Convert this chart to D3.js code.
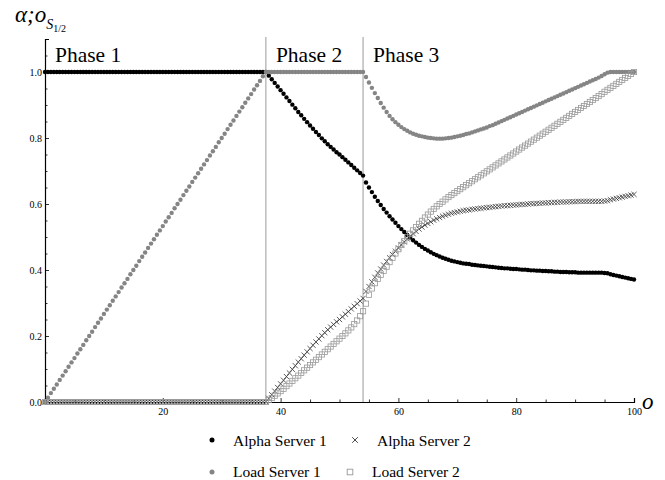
<!DOCTYPE html>
<html>
<head>
<meta charset="utf-8">
<script src="https://cdn.jsdelivr.net/npm/d3@7"></script>
<style>
  html, body { margin: 0; padding: 0; background: #fff; }
  svg { display: block; font-family: "Liberation Serif", "Times New Roman", serif; }
</style>
</head>
<body>
<svg id="chart" width="665" height="480"></svg>
<script>
// ---------- data (o sampled every 0.5 from 0 to 100) ----------
const oValues = d3.range(0, 100.5, 0.5);
const phaseBounds = [37.5, 54];
const phaseLabels = ["Phase 1", "Phase 2", "Phase 3"];
const xTickLabels = [20, 40, 60, 80, 100];
const yTickLabels = [0, 0.2, 0.4, 0.6, 0.8, 1.0];

const alphaServer1 = [
  1,1,1,1,1,1,1,1,1,1, 1,1,1,1,1,1,1,1,1,1, 1,1,1,1,1,1,1,1,1,1,
  1,1,1,1,1,1,1,1,1,1, 1,1,1,1,1,1,1,1,1,1, 1,1,1,1,1,1,1,1,1,1,
  1,1,1,1,1,1,1,1,1,1, 1,1,1,1,1,1,
  0.989,0.978,0.967,0.956,0.945,0.934,0.923,0.912,0.901,0.890,0.879,0.869,0.858,0.848,0.838,0.828,
  0.818,0.809,0.799,0.790,0.781,0.773,0.765,0.757,0.750,0.742,0.734,0.726,0.718,0.710,0.702,0.694,0.686,
  0.665,0.650,0.636,0.622,0.609,0.597,0.585,0.574,0.563,0.553,0.543,0.533,0.524,0.515,0.506,0.498,0.490,0.483,
  0.476,0.470,0.464,0.459,0.454,0.449,0.445,0.441,0.437,0.434,0.431,0.428,0.426,0.424,0.422,0.420,0.419,0.418,
  0.416,0.415,0.414,0.413,0.412,0.411,0.410,0.409,0.408,0.407,0.406,0.405,0.405,0.404,0.403,0.403,0.402,0.401,
  0.401,0.400,0.399,0.399,0.398,0.398,0.397,0.397,0.396,0.396,0.395,0.395,0.394,0.394,0.394,0.393,0.393,0.393,
  0.392,0.392,0.392,0.392,0.392,0.392,0.392,0.392,0.392,0.391,0.390,0.387,0.385,0.383,0.381,0.379,0.377,0.375,
  0.373,0.371
];

const alphaServer2 = [
  0,0,0,0,0,0,0,0,0,0, 0,0,0,0,0,0,0,0,0,0, 0,0,0,0,0,0,0,0,0,0,
  0,0,0,0,0,0,0,0,0,0, 0,0,0,0,0,0,0,0,0,0, 0,0,0,0,0,0,0,0,0,0,
  0,0,0,0,0,0,0,0,0,0, 0,0,0,0,0,0,
  0.011,0.022,0.033,0.044,0.055,0.066,0.077,0.088,0.099,0.110,0.121,0.131,0.142,0.152,0.162,0.172,
  0.182,0.191,0.201,0.210,0.219,0.227,0.235,0.243,0.250,0.258,0.266,0.274,0.282,0.290,0.298,0.306,0.314,
  0.335,0.350,0.364,0.378,0.391,0.403,0.415,0.426,0.437,0.447,0.457,0.467,0.476,0.485,0.494,0.502,0.510,0.517,
  0.524,0.530,0.536,0.541,0.546,0.551,0.555,0.559,0.563,0.566,0.569,0.572,0.574,0.576,0.578,0.580,0.581,0.582,
  0.584,0.585,0.586,0.587,0.588,0.589,0.590,0.591,0.592,0.593,0.594,0.595,0.595,0.596,0.597,0.597,0.598,0.599,
  0.599,0.600,0.601,0.601,0.602,0.602,0.603,0.603,0.604,0.604,0.605,0.605,0.606,0.606,0.606,0.607,0.607,0.607,
  0.608,0.608,0.608,0.608,0.608,0.608,0.608,0.608,0.608,0.609,0.610,0.613,0.615,0.617,0.619,0.621,0.623,0.625,
  0.627,0.629
];

const loadServer1 = [
  0.000,0.013,0.027,0.040,0.053,0.067,0.080,0.093,0.107,0.120,0.133,0.147,0.160,0.173,0.187,0.200,
  0.213,0.227,0.240,0.253,0.267,0.280,0.293,0.307,0.320,0.333,0.347,0.360,0.373,0.387,0.400,0.413,
  0.427,0.440,0.453,0.467,0.480,0.493,0.507,0.520,0.533,0.547,0.560,0.573,0.587,0.600,0.613,0.627,
  0.640,0.653,0.667,0.680,0.693,0.707,0.720,0.733,0.747,0.760,0.773,0.787,0.800,0.813,0.827,0.840,
  0.853,0.867,0.880,0.893,0.907,0.920,0.933,0.947,0.960,0.973,0.987,1.000,
  1,1,1,1,1,1,1,1,1,1, 1,1,1,1,1,1,1,1,1,1, 1,1,1,1,1,1,1,1,1,1, 1,1,1,
  0.985,0.968,0.952,0.936,0.921,0.906,0.892,0.879,0.867,0.857,0.848,0.840,0.833,0.827,0.822,0.817,0.813,0.810,
  0.807,0.805,0.803,0.801,0.800,0.799,0.798,0.798,0.798,0.799,0.800,0.801,0.803,0.805,0.807,0.809,0.812,0.814,
  0.817,0.820,0.823,0.826,0.829,0.832,0.836,0.839,0.843,0.847,0.851,0.855,0.859,0.863,0.867,0.871,0.875,0.879,
  0.883,0.887,0.891,0.895,0.899,0.903,0.907,0.911,0.915,0.919,0.923,0.927,0.931,0.935,0.939,0.943,0.947,0.951,
  0.955,0.959,0.963,0.967,0.971,0.975,0.979,0.983,0.988,0.993,0.998,
  1,1,1,1,1,1,1,1,1
];

const loadServer2 = [
  0,0,0,0,0,0,0,0,0,0, 0,0,0,0,0,0,0,0,0,0, 0,0,0,0,0,0,0,0,0,0,
  0,0,0,0,0,0,0,0,0,0, 0,0,0,0,0,0,0,0,0,0, 0,0,0,0,0,0,0,0,0,0,
  0,0,0,0,0,0,0,0,0,0, 0,0,0,0,0,0,
  0.006,0.012,0.019,0.026,0.033,0.040,0.048,0.056,0.064,0.072,0.080,0.088,0.096,0.104,0.112,0.120,
  0.128,0.136,0.144,0.152,0.160,0.168,0.176,0.184,0.192,0.200,0.208,0.217,0.226,0.236,0.247,0.260,0.275,
  0.298,0.325,0.344,0.360,0.373,0.385,0.397,0.410,0.424,0.437,0.450,0.463,0.476,0.488,0.499,0.510,0.520,0.530,
  0.540,0.549,0.559,0.568,0.577,0.585,0.593,0.600,0.607,0.614,0.621,0.627,0.633,0.639,0.645,0.651,0.657,0.663,
  0.669,0.675,0.681,0.687,0.693,0.699,0.705,0.711,0.717,0.723,0.729,0.735,0.741,0.747,0.753,0.759,0.765,0.771,
  0.777,0.783,0.789,0.795,0.801,0.807,0.813,0.819,0.825,0.831,0.837,0.843,0.849,0.855,0.861,0.867,0.873,0.879,
  0.885,0.891,0.897,0.903,0.909,0.915,0.921,0.927,0.933,0.940,0.946,0.952,0.958,0.964,0.970,0.976,0.982,0.988,
  0.994,1.000
];

const seriesNames = ["Alpha Server 1", "Alpha Server 2", "Load Server 1", "Load Server 2"];

// ---------- layout ----------
const svg = d3.select("#chart");
const x = d3.scaleLinear().domain([0, 100]).range([45, 634]);
const y = d3.scaleLinear().domain([0, 1.1]).range([402, 39]);
const FONT = '"Liberation Serif", "Times New Roman", serif';

// phase separator lines
svg.append("g").selectAll("line").data(phaseBounds).join("line")
  .attr("x1", d => x(d)).attr("x2", d => x(d))
  .attr("y1", y(1.1) - 2).attr("y2", y(0))
  .attr("stroke", "#9a9a9a").attr("stroke-width", 1);

// phase labels
const phaseStarts = [0].concat(phaseBounds);
svg.append("g").selectAll("text").data(phaseLabels).join("text")
  .attr("x", (d, i) => x(phaseStarts[i]) + 10)
  .attr("y", 62)
  .attr("font-size", 21.5)
  .attr("font-family", FONT)
  .attr("fill", "#000")
  .text(d => d);

// ---------- axes ----------
const xMinor = d3.range(5, 100, 5).filter(v => v % 20 !== 0);
const yMinor = d3.range(0.05, 1.11, 0.05).filter(v => Math.abs(v * 5 - Math.round(v * 5)) > 1e-6);

const gx = svg.append("g").attr("transform", `translate(0,${y(0)})`)
  .call(d3.axisBottom(x).tickValues(xTickLabels).tickSize(-4).tickPadding(6).tickFormat(d3.format("d")));
svg.append("g").attr("transform", `translate(0,${y(0)})`)
  .call(d3.axisBottom(x).tickValues(xMinor).tickSize(-2.5).tickFormat(""))
  .call(g => g.select(".domain").remove());

const gy = svg.append("g").attr("transform", `translate(${x(0)},0)`)
  .call(d3.axisLeft(y).tickValues(yTickLabels).tickSize(-4).tickPadding(3).tickFormat(d3.format(".1f")));
svg.append("g").attr("transform", `translate(${x(0)},0)`)
  .call(d3.axisLeft(y).tickValues(yMinor).tickSize(-2.5).tickFormat(""))
  .call(g => g.select(".domain").remove());

svg.selectAll(".domain").attr("stroke", "#000").attr("stroke-width", 1.2);
svg.selectAll(".tick line").attr("stroke", "#000").attr("stroke-width", 0.8);
svg.selectAll(".tick text").attr("font-family", FONT).attr("font-size", 10).attr("fill", "#000");
gx.selectAll(".tick text").attr("dy", "0.71em");

// axis titles
const yTitle = svg.append("text").attr("x", 15).attr("y", 22)
  .attr("font-family", FONT).attr("fill", "#000");
yTitle.append("tspan").attr("font-style", "italic").attr("font-size", 23).text("α;o");
yTitle.append("tspan").attr("font-style", "italic").attr("font-size", 14).attr("dy", 7).text("S");
yTitle.append("tspan").attr("font-size", 10).attr("dy", 3).text("1/2");

svg.append("text").attr("x", 642).attr("y", 409)
  .attr("font-family", FONT).attr("font-style", "italic").attr("font-size", 23)
  .attr("fill", "#000").text("o");

// ---------- markers ----------
const plot = svg.append("g");
const pts = arr => oValues.map((o, i) => ({ o, v: arr[i] })).filter(d => d.v !== undefined);

const crossPath = "M-2.6,-2.6L2.6,2.6M-2.6,2.6L2.6,-2.6";

// Alpha Server 1: black dots
plot.append("g").selectAll("circle").data(pts(alphaServer1)).join("circle")
  .attr("cx", d => x(d.o)).attr("cy", d => y(d.v)).attr("r", 2.2).attr("fill", "#000");

// Alpha Server 2: crosses
plot.append("g").selectAll("path").data(pts(alphaServer2)).join("path")
  .attr("transform", d => `translate(${x(d.o)},${y(d.v)})`)
  .attr("d", crossPath).attr("stroke", "#333").attr("stroke-width", 0.8).attr("fill", "none");

// Load Server 1: gray dots
plot.append("g").selectAll("circle").data(pts(loadServer1)).join("circle")
  .attr("cx", d => x(d.o)).attr("cy", d => y(d.v)).attr("r", 2.2).attr("fill", "#858585");

// Load Server 2: open squares
plot.append("g").selectAll("rect").data(pts(loadServer2)).join("rect")
  .attr("x", d => x(d.o) - 2.6).attr("y", d => y(d.v) - 2.6)
  .attr("width", 5.2).attr("height", 5.2)
  .attr("fill", "none").attr("stroke", "#999").attr("stroke-width", 0.8);

// ---------- legend ----------
const legendItems = [
  { name: seriesNames[0], kind: "dot", color: "#000", mx: 212, tx: 233, my: 440, ty: 446 },
  { name: seriesNames[1], kind: "cross", color: "#333", mx: 355, tx: 377, my: 440, ty: 446 },
  { name: seriesNames[2], kind: "dot", color: "#858585", mx: 212, tx: 233, my: 472, ty: 477 },
  { name: seriesNames[3], kind: "square", color: "#999", mx: 350, tx: 372, my: 472, ty: 477 }
];
const lg = svg.append("g");
legendItems.forEach(it => {
  if (it.kind === "dot") {
    lg.append("circle").attr("cx", it.mx).attr("cy", it.my).attr("r", 2.5).attr("fill", it.color);
  } else if (it.kind === "cross") {
    lg.append("path").attr("transform", `translate(${it.mx},${it.my})`)
      .attr("d", "M-2.8,-2.8L2.8,2.8M-2.8,2.8L2.8,-2.8").attr("stroke", it.color).attr("stroke-width", 0.9);
  } else {
    lg.append("rect").attr("x", it.mx - 2.8).attr("y", it.my - 2.8).attr("width", 5.6).attr("height", 5.6)
      .attr("fill", "none").attr("stroke", it.color).attr("stroke-width", 0.9);
  }
  lg.append("text").attr("x", it.tx).attr("y", it.ty)
    .attr("font-family", FONT).attr("font-size", 15.5).attr("fill", "#000").text(it.name);
});
</script>
</body>
</html>
